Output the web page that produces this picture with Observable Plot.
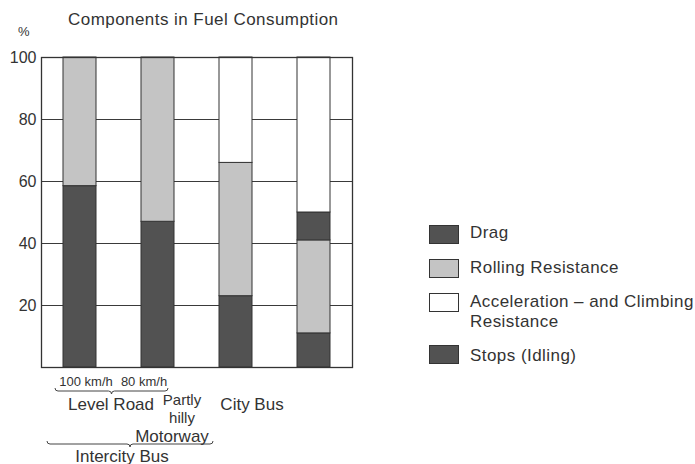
<!DOCTYPE html>
<html>
<head>
<meta charset="utf-8">
<script src="https://cdn.jsdelivr.net/npm/d3@7"></script>
<script src="https://cdn.jsdelivr.net/npm/@observablehq/plot@0.6"></script>
<style>
  html, body { margin: 0; padding: 0; background: #fff; }
  #wrap { position: relative; width: 695px; height: 464px; font-family: "Liberation Sans", Arial, sans-serif; color: #333; }
  #wrap svg { position: absolute; left: 0; top: 0; }
  .abs { position: absolute; white-space: nowrap; }
  .title { left: 68px; top: 10px; font-size: 17px; line-height: 20px; letter-spacing: 0.45px; }
  .pct { left: 18px; top: 24px; font-size: 13px; line-height: 16px; }
  .sw { position: absolute; left: 429px; width: 30px; height: 19px; border: 1px solid #333; box-sizing: border-box; }
  .lt { position: absolute; left: 470px; font-size: 17px; line-height: 20px; letter-spacing: 0.45px; }
</style>
</head>
<body>
<div id="wrap"></div>
<script>
// ---- data ----
const categories = ["Level Road 100 km/h", "Level Road 80 km/h", "Partly hilly", "City Bus"];
const components = ["Drag", "Rolling Resistance", "Stops (Idling)", "Acceleration – and Climbing Resistance"];
const drag    = [58.5, 47, 23, 11];
const rolling = [41.5, 53, 43, 30];
const stops   = [0, 0, 0, 9];
const accel   = [0, 0, 34, 50];
const yTicks = [20, 40, 60, 80, 100];
const gridLines = [20, 40, 60, 80];

const annotationLabels  = ["100 km/h", "80 km/h", "Level Road", "Partly", "hilly", "City Bus", "Motorway", "Intercity Bus"];
const annotationAnchors = [categories[0], categories[1], categories[0], categories[1], categories[1], categories[2], categories[1], categories[0]];

// ---- styling / layout ----
const DARK = "#525252", LIGHT = "#c4c4c4", WHITE = "#ffffff", INK = "#333";
const compColors = [DARK, LIGHT, DARK, WHITE];
const annStyle = [
  {dx: 6,   dy: 18, size: 13, ls: 0.2},
  {dx: -14, dy: 18, size: 13, ls: 0.2},
  {dx: 31,  dy: 42, size: 17, ls: 0.3},
  {dx: 24,  dy: 37, size: 15, ls: 0.3},
  {dx: 24,  dy: 55, size: 15, ls: 0.3},
  {dx: 16,  dy: 42, size: 17, ls: 0.3},
  {dx: 14,  dy: 74, size: 17, ls: 0.3},
  {dx: 42,  dy: 94, size: 17, ls: 0.3}
];

const series = [drag, rolling, stops, accel];
const rows = [];
categories.forEach((c, i) => {
  components.forEach((k, j) => {
    const v = series[j][i];
    if (v > 0) rows.push({cat: c, component: k, value: v});
  });
});

const marks = [
  Plot.ruleY(gridLines, {stroke: "#3a3a3a", strokeWidth: 1}),
  Plot.barY(rows, {x: "cat", y: "value", fill: "component", order: components, stroke: INK, strokeWidth: 1}),
  Plot.frame({stroke: INK, strokeWidth: 1.3}),
  Plot.axisY({ticks: yTicks, tickSize: 0, tickPadding: 5, fontSize: 16, label: null, color: INK}),
];
annotationLabels.forEach((t, i) => {
  const s = annStyle[i];
  marks.push(Plot.text([{a: annotationAnchors[i], t}], {
    x: "a", text: "t", frameAnchor: "bottom", lineAnchor: "bottom",
    dx: s.dx, dy: s.dy, fontSize: s.size, fill: INK, style: `letter-spacing:${s.ls}px`
  }));
});

const plot = Plot.plot({
  width: 695, height: 464,
  marginLeft: 41, marginRight: 343, marginTop: 57, marginBottom: 97,
  style: {fontFamily: "'Liberation Sans', Arial, sans-serif", background: "transparent", overflow: "visible"},
  x: {type: "band", domain: categories, paddingInner: 0.577, paddingOuter: 0.28, axis: null},
  y: {domain: [0, 100], axis: null},
  color: {domain: components, range: compColors},
  marks
});

// braces under the category groups
const xs = plot.scale("x");
const bw = xs.bandwidth;
function braceD(x1, x2, y, h) {
  const xm = (x1 + x2) / 2, r = h / 2;
  return `M${x1},${y}Q${x1},${y + r} ${x1 + r},${y + r}L${xm - r},${y + r}Q${xm},${y + r} ${xm},${y + h}` +
         `Q${xm},${y + r} ${xm + r},${y + r}L${x2 - r},${y + r}Q${x2},${y + r} ${x2},${y}`;
}
const braceSpecs = [
  {x1: xs.apply(categories[0]) - 8,  x2: xs.apply(categories[1]) + bw - 6, y: 388, h: 6},
  {x1: xs.apply(categories[0]) - 16, x2: xs.apply(categories[2]) - 6,      y: 441, h: 6}
];
const svg = d3.select(plot);
braceSpecs.forEach(b => {
  svg.append("path").attr("d", braceD(b.x1, b.x2, b.y, b.h))
    .attr("fill", "none").attr("stroke", "#444").attr("stroke-width", 1);
});

const wrap = document.getElementById("wrap");
wrap.appendChild(plot);

// title and unit
const title = document.createElement("div");
title.className = "abs title"; title.textContent = "Components in Fuel Consumption";
wrap.appendChild(title);
const pct = document.createElement("div");
pct.className = "abs pct"; pct.textContent = "%";
wrap.appendChild(pct);

// legend
const legendItems = [
  {name: components[0], color: compColors[0], top: 225, textTop: 223},
  {name: components[1], color: compColors[1], top: 259, textTop: 258},
  {name: "Acceleration – and Climbing\nResistance", color: compColors[3], top: 293, textTop: 292},
  {name: components[2], color: compColors[2], top: 345, textTop: 346}
];
legendItems.forEach(it => {
  const sw = document.createElement("div");
  sw.className = "sw"; sw.style.top = it.top + "px"; sw.style.background = it.color;
  wrap.appendChild(sw);
  const t = document.createElement("div");
  t.className = "lt"; t.style.top = it.textTop + "px"; t.style.whiteSpace = "pre";
  t.textContent = it.name;
  wrap.appendChild(t);
});
</script>
</body>
</html>
